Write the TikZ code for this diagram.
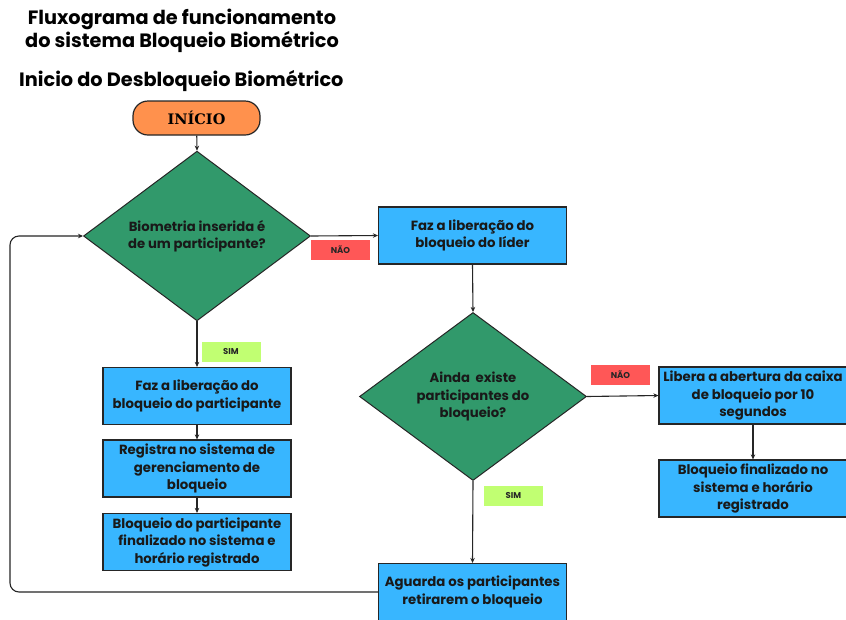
\documentclass[tikz,border=0pt]{standalone}
\usepackage{fontspec}
\setmainfont{Poppins}[BoldFont={* Bold}]
\newfontfamily\slabfont{DejaVu Serif}
\usetikzlibrary{shapes.geometric,arrows.meta}
\definecolor{cOrange}{HTML}{FF914D}
\definecolor{cGreen}{HTML}{31996B}
\definecolor{cBlue}{HTML}{38B6FF}
\definecolor{cRed}{HTML}{FF5757}
\definecolor{cLime}{HTML}{C1FF72}
\definecolor{cLine}{HTML}{262626}
\begin{document}
\begin{tikzpicture}[x=1pt,y=-1pt,
  titletxt/.style={font=\bfseries\fontsize{19.3}{22.5}\selectfont, align=center, inner sep=0pt, text=black},
  procbox/.style={draw=cLine, line width=1.2pt, fill=cBlue, minimum width=188pt, minimum height=57pt, align=center, inner sep=1pt, font=\bfseries\fontsize{13.3}{17.5}\selectfont, text=black!90},
  decision/.style={diamond, draw=cLine, line width=1pt, fill=cGreen, minimum width=227pt, minimum height=168pt, inner sep=0pt, align=center, font=\bfseries\fontsize{13.2}{17.5}\selectfont, text=black!90},
  startbox/.style={draw=cLine, line width=1.2pt, fill=cOrange, rounded corners=15pt, minimum width=127pt, minimum height=34pt, font=\slabfont\bfseries\fontsize{14.5}{16}\selectfont},
  tag/.style={minimum width=59pt, minimum height=20pt, inner sep=0pt, font=\bfseries\fontsize{8.5}{9}\selectfont, text=black!85},
  arr/.style={draw=cLine, line width=1.1pt, -{Stealth[length=5pt,width=4.5pt]}}]
\useasboundingbox (0,0) rectangle (846,619);
\fill[white] (0,0) rectangle (846,619);
% titles
\node[titletxt, anchor=north] (t1) at (182,9) {Fluxograma de funcionamento\\do sistema Bloqueio Biométrico};
\node[titletxt, anchor=north west] (t2) at (19,70) {Inicio do Desbloqueio Biométrico};
% nodes
\node[startbox] (ini) at (196.5,118) {INÍCIO};
\node[decision] (d1) at (197,236) {Biometria inserida é\\de um participante?};
\node[procbox] (lid) at (472.5,235.5) {Faz a liberação do\\bloqueio do líder};
\node[decision] (d2) at (473,396.5) {Ainda\ \ existe\\participantes do\\bloqueio?};
\node[procbox] (lib) at (753,395.5) {Libera a abertura da caixa\\de bloqueio por 10\\segundos};
\node[procbox] (fin) at (753,488.5) {Bloqueio finalizado no\\sistema e horário\\registrado};
\node[procbox] (p1) at (197,396) {Faz a liberação do\\bloqueio do participante};
\node[procbox] (p2) at (197,468.5) {Registra no sistema de\\gerenciamento de\\bloqueio};
\node[procbox] (p3) at (197,542) {Bloqueio do participante\\finalizado no sistema e\\horário registrado};
\node[procbox] (ag) at (472.5,592) {Aguarda os participantes\\retirarem o bloqueio};
% tags
\node[tag, fill=cRed] (n1) at (340.5,250) {NÃO};
\node[tag, fill=cRed] (n2) at (620.5,375) {NÃO};
\node[tag, fill=cLime] (s1) at (231,351.5) {SIM};
\node[tag, fill=cLime] (s2) at (513.5,495.5) {SIM};
% connectors
\coordinate (lp) at (10,400);
\draw[arr] (ini) -- (d1.north);
\draw[arr] (d1.east) -- (lid.west);
\draw[arr] (lid.south) -- (d2.north);
\draw[arr] (d2.east) -- (lib.west);
\draw[arr] (lib.south) -- (fin.north);
\draw[arr] (d1.south) -- (p1.north);
\draw[arr] (p1.south) -- (p2.north);
\draw[arr] (p2.south) -- (p3.north);
\draw[arr] (d2.south) -- (ag.north);
\draw[arr, rounded corners=9pt] (ag.west) -| (lp) |- (d1.west);
\end{tikzpicture}
\end{document}
